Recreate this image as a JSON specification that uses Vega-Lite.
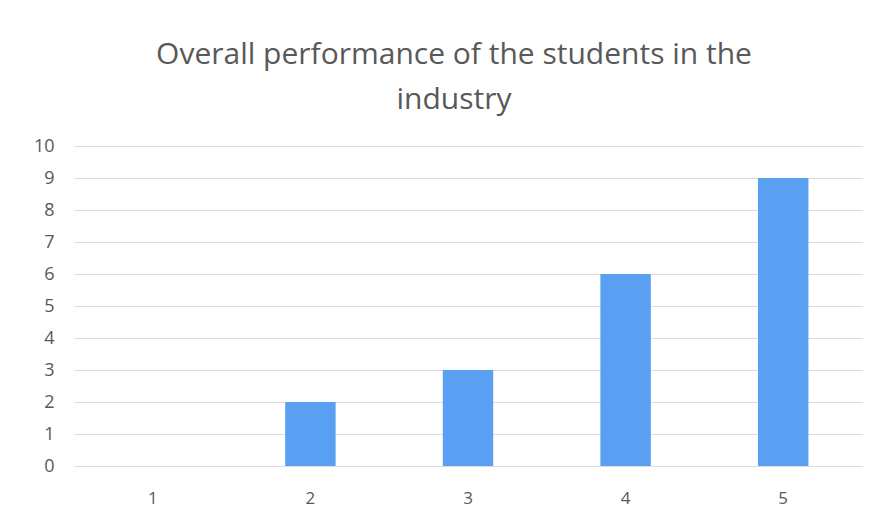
{
  "$schema": "https://vega.github.io/schema/vega-lite/v6.json",
  "autosize": {"type": "fit", "contains": "padding"},
  "width": 879,
  "height": 523,
  "padding": {"left": 33, "right": 17, "top": 40, "bottom": 17},
  "background": "white",
  "title": {
    "text": ["Overall performance of the students in the", "industry"],
    "font": "Open Sans",
    "fontSize": 30,
    "fontWeight": "normal",
    "color": "#595959",
    "lineHeight": 45,
    "anchor": "middle",
    "dx": -14,
    "offset": 22
  },
  "data": {
    "values": [
      {"category": "1", "value": 0},
      {"category": "2", "value": 2},
      {"category": "3", "value": 3},
      {"category": "4", "value": 6},
      {"category": "5", "value": 9}
    ]
  },
  "mark": {"type": "bar", "color": "#5aa0f2"},
  "encoding": {
    "x": {
      "field": "category",
      "type": "ordinal",
      "scale": {"paddingInner": 0.68, "paddingOuter": 0.34},
      "axis": {
        "title": null,
        "labelAngle": 0,
        "labelFont": "Open Sans",
        "labelFontSize": 17,
        "labelColor": "#595959",
        "labelPadding": 24,
        "domain": false,
        "ticks": false,
        "grid": false
      }
    },
    "y": {
      "field": "value",
      "type": "quantitative",
      "scale": {"domain": [0, 10], "nice": false},
      "axis": {
        "title": null,
        "values": [0, 1, 2, 3, 4, 5, 6, 7, 8, 9, 10],
        "labelFont": "Open Sans",
        "labelFontSize": 18,
        "labelColor": "#595959",
        "labelPadding": 20,
        "domain": false,
        "ticks": false,
        "grid": true,
        "gridColor": "#dcdcdc",
        "gridWidth": 1
      }
    }
  },
  "config": {"view": {"stroke": null}}
}
